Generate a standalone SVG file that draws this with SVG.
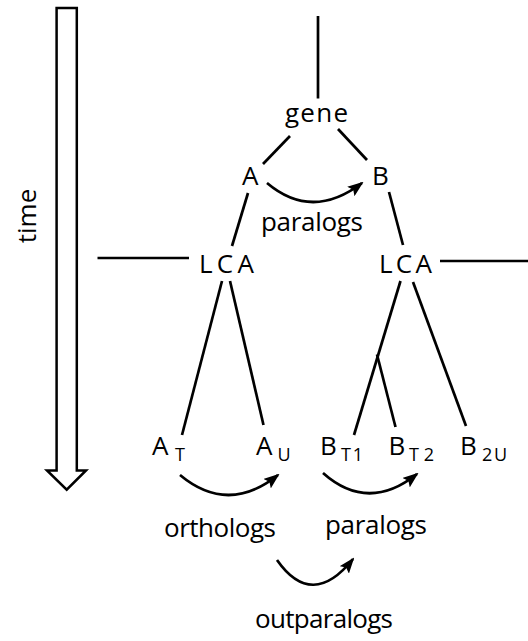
<svg xmlns="http://www.w3.org/2000/svg" width="528" height="641" viewBox="0 0 528 641">
<style>
  text { font-family: "Open Sans", "Noto Sans", "Liberation Sans", sans-serif; fill: #000; }
  .big { font-size: 26px; }
  .word { font-size: 26px; }
  .sub { font-size: 18px; }
  .ln { stroke: #000; stroke-width: 2.7; fill: none; stroke-linecap: butt; }
  .arc { stroke: #000; stroke-width: 2.7; fill: none; marker-end: url(#ah); }
</style>
<defs>
  <marker id="ah" viewBox="0 0 16 12" refX="14" refY="6" markerWidth="16" markerHeight="12" markerUnits="userSpaceOnUse" orient="auto">
    <path d="M0,0 L16,6 L0,12 L3,6 Z" fill="#000"/>
  </marker>
</defs>

<g id="time-axis">
  <polygon points="56.6,8 76.8,8 76.8,470.5 86,470.5 66.7,489.7 47,470.5 56.6,470.5" fill="#fff" stroke="#000" stroke-width="2.5"/>
  <text class="big" text-anchor="middle" transform="translate(36,216) rotate(-90)">time</text>
</g>

<g id="connectors">
  <line class="ln" x1="318" y1="16" x2="318" y2="98.5"/>
  <line class="ln" x1="290" y1="136" x2="263" y2="164"/>
  <line class="ln" x1="338" y1="129" x2="367" y2="160"/>
  <line class="ln" x1="248" y1="193" x2="232" y2="246"/>
  <line class="ln" x1="389" y1="192" x2="403" y2="245"/>
  <line class="ln" x1="97.5" y1="258" x2="189" y2="258"/>
  <line class="ln" x1="440" y1="261" x2="528" y2="261"/>
  <line class="ln" x1="222" y1="281" x2="182" y2="435"/>
  <line class="ln" x1="230" y1="281" x2="263.5" y2="425"/>
  <line class="ln" x1="400.5" y1="281" x2="354" y2="435"/>
  <line class="ln" x1="377" y1="354.5" x2="395.5" y2="427"/>
  <line class="ln" x1="413" y1="282" x2="466" y2="426"/>
  <path class="arc" d="M267,183 Q312,221 362,183"/>
  <path class="arc" d="M180,475 Q228,515 278,475"/>
  <path class="arc" d="M323,473 Q368,513 417,474"/>
  <path class="arc" d="M277,560 Q312,610 353,559"/>
</g>

<g id="gene"><text class="word" x="285" y="122" textLength="63" lengthAdjust="spacing">gene</text></g>
<g id="A"><text class="big" x="242" y="185">A</text></g>
<g id="B"><text class="big" x="372" y="185">B</text></g>
<g id="label-paralogs-top"><text class="word" x="261" y="231" textLength="102" lengthAdjust="spacing">paralogs</text></g>
<g id="LCA-left"><text class="big" x="199" y="273" textLength="55" lengthAdjust="spacing">LCA</text></g>
<g id="LCA-right"><text class="big" x="379" y="273" textLength="53" lengthAdjust="spacing">LCA</text></g>
<g id="A-T"><text class="big" x="152" y="455">A<tspan class="sub" x="175" y="461">T</tspan></text></g>
<g id="A-U"><text class="big" x="256" y="455">A<tspan class="sub" x="277.5" y="461">U</tspan></text></g>
<g id="B-T1"><text class="big" x="320" y="455">B<tspan class="sub" x="341" y="461" textLength="22" lengthAdjust="spacing">T1</tspan></text></g>
<g id="B-T2"><text class="big" x="388.5" y="455">B<tspan class="sub" x="409" y="461" textLength="25" lengthAdjust="spacing">T2</tspan></text></g>
<g id="B-2U"><text class="big" x="460" y="455">B<tspan class="sub" x="482" y="461" textLength="25" lengthAdjust="spacing">2U</tspan></text></g>
<g id="label-orthologs"><text class="word" x="164" y="537" textLength="112" lengthAdjust="spacing">orthologs</text></g>
<g id="label-paralogs-bottom"><text class="word" x="325" y="534" textLength="102" lengthAdjust="spacing">paralogs</text></g>
<g id="label-outparalogs"><text class="word" x="255" y="628" textLength="138" lengthAdjust="spacing">outparalogs</text></g>
</svg>
